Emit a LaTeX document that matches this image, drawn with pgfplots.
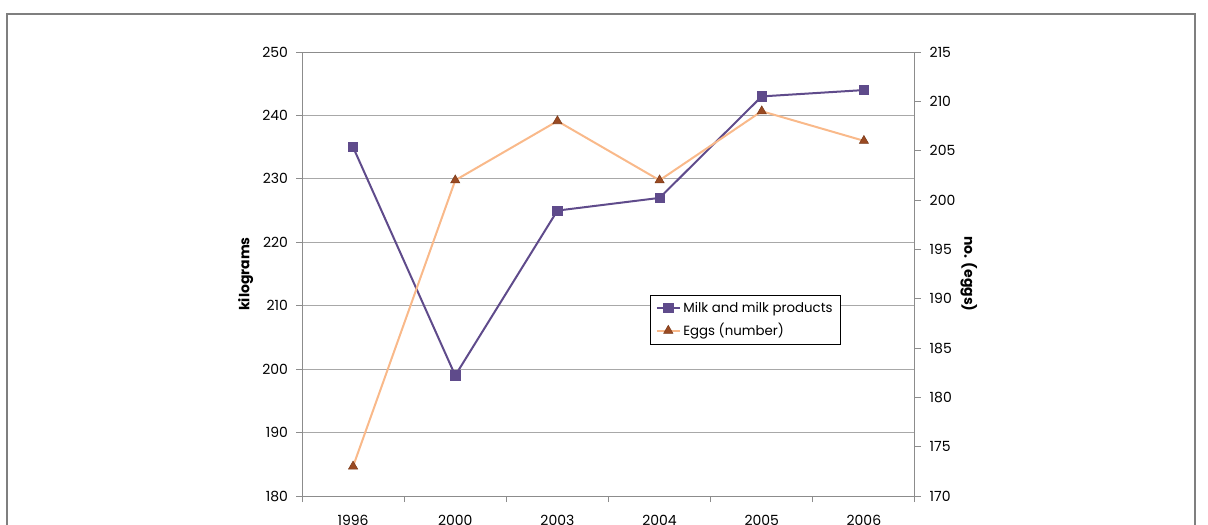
\documentclass[border=0pt]{standalone}
\usepackage{pgfplots}
\pgfplotsset{compat=1.18}
\usepackage{fontspec}
\setmainfont{Poppins}

\definecolor{milk}{HTML}{5F4B8B}
\definecolor{eggline}{HTML}{F9B98A}
\definecolor{eggmark}{HTML}{9A4A22}
\definecolor{axisgray}{HTML}{8C8C8C}
\definecolor{gridgray}{HTML}{A8A8A8}
\definecolor{framegray}{HTML}{7F7F7F}

\pgfplotsset{
  base/.style={
    scale only axis, width=459.75pt, height=333pt,
    at={(226.5pt,-372pt)}, anchor=south west,
    xmin=0.5, xmax=6.5,
    tick align=outside,
    tick style={axisgray, line width=0.75pt},
    major tick length=4.5pt, minor tick length=4.5pt,
    axis line style={axisgray, line width=0.75pt},
    font=\fontsize{10.5}{12}\selectfont,
    /pgf/number format/assume math mode=true,
    clip=false,
  },
  milkstyle/.style={milk, line width=1.5pt, mark=square*, mark size=3.5pt,
    mark options={fill=milk, draw=milk, line width=0.5pt}},
  eggstyle/.style={eggline, line width=1.5pt, mark=triangle*, mark size=4pt,
    mark options={fill=eggmark, draw=eggmark!80!black, line width=0.4pt}},
}

\begin{document}
\begin{tikzpicture}
  \path[use as bounding box, clip] (0,0) rectangle (906pt,-393.75pt);
  \draw[framegray, line width=1.5pt] (5.6pt,-400pt) |- (896.25pt,-10.5pt) -- (896.25pt,-400pt);

  % left axis: milk in kilograms
  \begin{axis}[base,
      ymin=180, ymax=250, ytick={180,190,...,250},
      ytick pos=left, xtick pos=bottom,
      xtick={1,...,6}, xticklabels={1996,2000,2003,2004,2005,2006},
      major x tick style={draw=none},
      minor xtick={0.5,1.5,...,6.5},
      xticklabel style={yshift=-6pt},
      yticklabel style={xshift=-2.5pt},
      ymajorgrids, grid style={gridgray, line width=0.75pt},
      ylabel={\bfseries kilograms},
    ]
    \addplot[milkstyle] coordinates {(1,235) (2,199) (3,225) (4,227) (5,243) (6,244)};
  \end{axis}

  % right axis: number of eggs
  \begin{axis}[base,
      ymin=170, ymax=215, ytick={170,175,...,215},
      axis y line*=right, axis x line=none,
      yticklabel style={xshift=3pt},
      ylabel={\bfseries no. (eggs)},
      ylabel style={rotate=180, xshift=0pt, yshift=-3pt},
      legend style={at={(0.568,0.453)}, anchor=north west, draw=black,
        line width=0.6pt, font=\fontsize{10}{12}\selectfont,
        row sep=3pt, inner xsep=4pt, inner ysep=3pt},
      legend cell align=left,
    ]
    \addlegendimage{milkstyle}
    \addlegendentry{Milk and milk products}
    \addplot[eggstyle] coordinates {(1,173) (2,202) (3,208) (4,202) (5,209) (6,206)};
    \addlegendentry{Eggs (number)}
  \end{axis}
\end{tikzpicture}
\end{document}
